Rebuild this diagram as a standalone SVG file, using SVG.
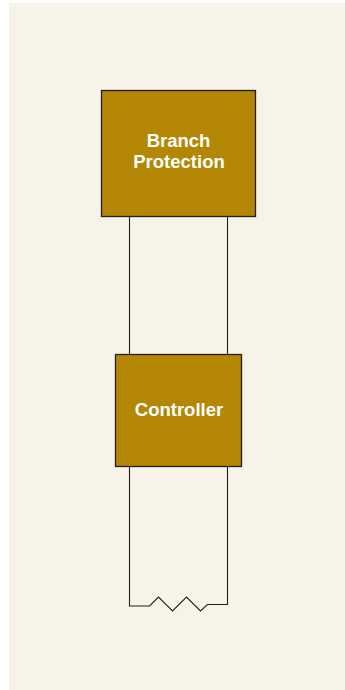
<svg xmlns="http://www.w3.org/2000/svg" width="345" height="690" viewBox="0 0 345 690">
<style>
.box{fill:#B38703;stroke:#231F20;stroke-width:1.3}
.lbl{font-family:"Liberation Sans",Arial,sans-serif;font-weight:bold;font-size:18.5px;fill:#FFFFFF;text-anchor:middle}
.wire{fill:none;stroke:#231F20;stroke-width:1.1}
</style>
<rect x="9" y="3" width="336" height="687" fill="#F7F3E8"/>
<g id="connectors">
<line class="wire" x1="129.5" y1="217" x2="129.5" y2="354"/>
<line class="wire" x1="227.5" y1="217" x2="227.5" y2="354"/>
<polyline class="wire" points="129.5,467 129.5,606 149.5,606 158.5,597 172.5,611 186.5,597 200.5,611 207.5,604.5 227.5,604.5 227.5,467"/>
</g>
<g id="branch-protection">
<rect class="box" x="101.5" y="90.5" width="154" height="126"/>
<text class="lbl" x="178.5" y="147">Branch</text>
<text class="lbl" x="179" y="168">Protection</text>
</g>
<g id="controller">
<rect class="box" x="115.5" y="354.5" width="126" height="112"/>
<text class="lbl" x="179" y="416">Controller</text>
</g>
</svg>
